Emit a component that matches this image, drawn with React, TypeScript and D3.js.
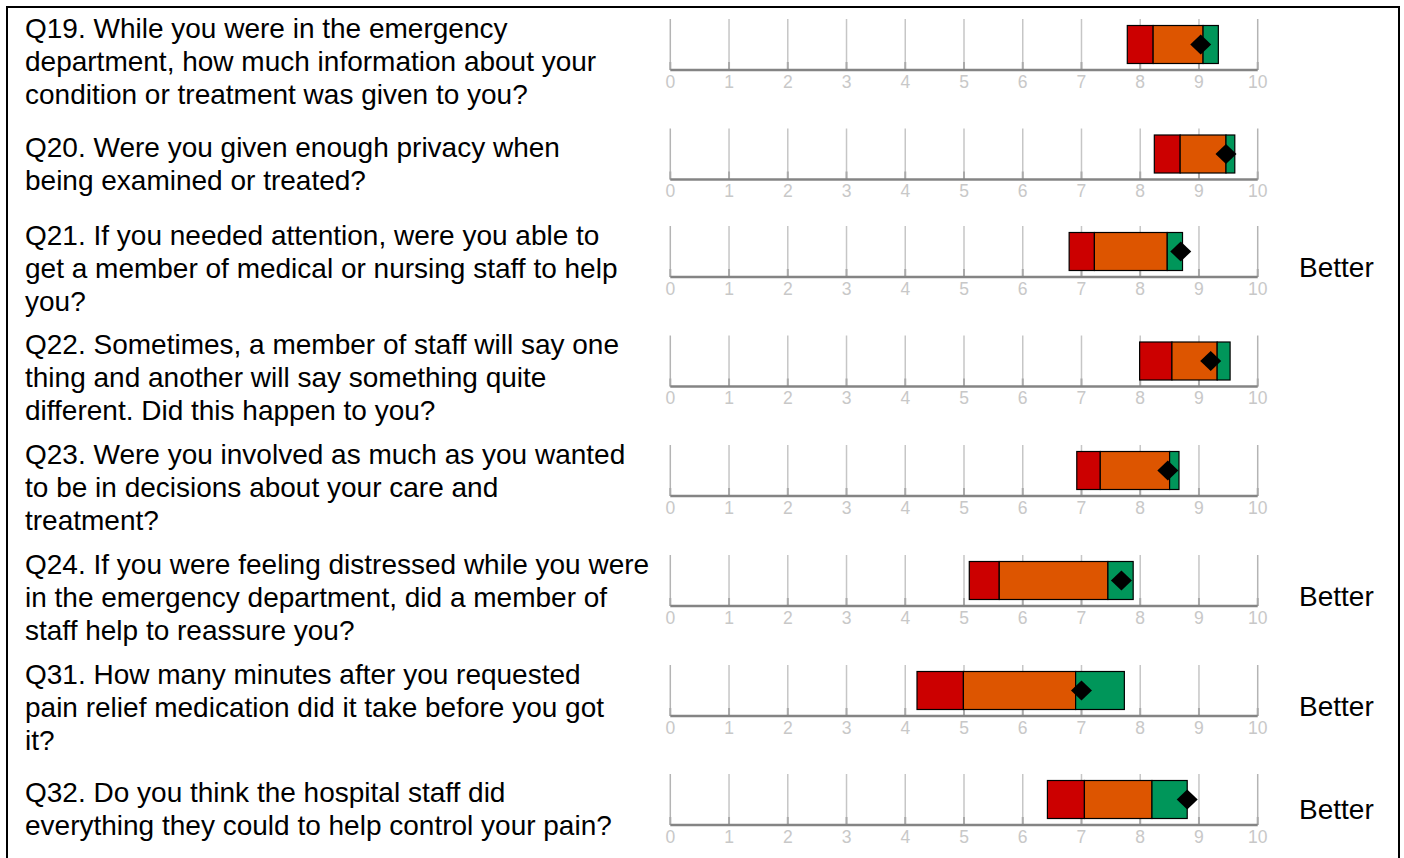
import React from 'react';
import * as d3 from 'd3';

// question text, one entry per line as it wraps in the report
const questions: string[][] = [
  ['Q19. While you were in the emergency', 'department, how much information about your', 'condition or treatment was given to you?'],
  ['Q20. Were you given enough privacy when', 'being examined or treated?'],
  ['Q21. If you needed attention, were you able to', 'get a member of medical or nursing staff to help', 'you?'],
  ['Q22. Sometimes, a member of staff will say one', 'thing and another will say something quite', 'different. Did this happen to you?'],
  ['Q23. Were you involved as much as you wanted', 'to be in decisions about your care and', 'treatment?'],
  ['Q24. If you were feeling distressed while you were', 'in the emergency department, did a member of', 'staff help to reassure you?'],
  ['Q31. How many minutes after you requested', 'pain relief medication did it take before you got', 'it?'],
  ['Q32. Do you think the hospital staff did', 'everything they could to help control your pain?'],
];

// band edges: red start, red/orange split, orange/green split, green end
const lowest = [7.78, 8.24, 6.79, 7.99, 6.92, 5.09, 4.2, 6.42];
const lowerLimit = [8.22, 8.68, 7.22, 8.54, 7.32, 5.6, 4.99, 7.05];
const upperLimit = [9.07, 9.46, 8.46, 9.31, 8.5, 7.45, 6.9, 8.2];
const highest = [9.33, 9.61, 8.72, 9.53, 8.66, 7.88, 7.73, 8.8];
const trustScore = [9.03, 9.46, 8.69, 9.2, 8.47, 7.68, 7.0, 8.8];
const comparison = ['', '', 'Better', '', '', 'Better', 'Better', 'Better'];
const tickValues = [0, 1, 2, 3, 4, 5, 6, 7, 8, 9, 10];

// axis baseline of each row on the page
const rowBaselines = [70, 179.5, 277, 386.5, 496, 606, 716, 825];

const W = 1404;
const H = 858;
const FONT = '"Liberation Sans", Arial, Helvetica, sans-serif';

const App: React.FC = () => {
  const x = d3.scaleLinear().domain([0, 10]).range([670.3, 1257.7]);
  const bands = [
    { from: lowest, to: lowerLimit, color: '#cc0000' },
    { from: lowerLimit, to: upperLimit, color: '#dd5500' },
    { from: upperLimit, to: highest, color: '#00965a' },
  ];

  return (
    <svg width={W} height={H} style={{ position: 'absolute', left: 0, top: 0, background: '#fff' }}>
      <rect x={7} y={7} width={1392} height={H + 20} fill="none" stroke="#000" strokeWidth={2} />
      {questions.map((lines, i) => {
        const b = rowBaselines[i];
        const first = b - (lines.length === 3 ? 32.5 : 23);
        const betterY = b + (lines.length === 3 ? -0.5 : -6);
        const barTop = b - 44.5;
        const barH = 38;
        const cy = barTop + barH / 2;
        const sx = x(trustScore[i]);
        const diamond = d3.line()([
          [sx, cy - 10],
          [sx + 10.5, cy],
          [sx, cy + 10],
          [sx - 10.5, cy],
        ]) + 'Z';
        return (
          <g key={i}>
            <text x={25} y={first} fontFamily={FONT} fontSize={28} fill="#000">
              {lines.map((l, j) => (
                <tspan key={j} x={25} y={first + j * 33}>{l}</tspan>
              ))}
            </text>
            {tickValues.map((t) => (
              <g key={t}>
                <line x1={x(t)} x2={x(t)} y1={b - 51} y2={b} stroke={t === 0 || t === 10 ? '#b4b4b4' : '#c6c6c6'} strokeWidth={1.5} />
                <line x1={x(t)} x2={x(t)} y1={b - 8} y2={b} stroke="#aaa" strokeWidth={2} />
                <text x={x(t)} y={b + 17.5} textAnchor="middle" fontFamily={FONT} fontSize={17.5} fill="#c8c8c8">{t}</text>
              </g>
            ))}
            <line x1={x(0)} x2={x(10)} y1={b} y2={b} stroke="#848484" strokeWidth={2.5} />
            {bands.map((band, k) => (
              <rect key={k} x={x(band.from[i])} y={barTop} width={x(band.to[i]) - x(band.from[i])} height={barH}
                fill={band.color} stroke="#000" strokeWidth={1.2} />
            ))}
            <path d={diamond} fill="#000" />
            {comparison[i] && (
              <text x={1299} y={betterY} fontFamily={FONT} fontSize={28} fill="#000">{comparison[i]}</text>
            )}
          </g>
        );
      })}
    </svg>
  );
};

export default App;
